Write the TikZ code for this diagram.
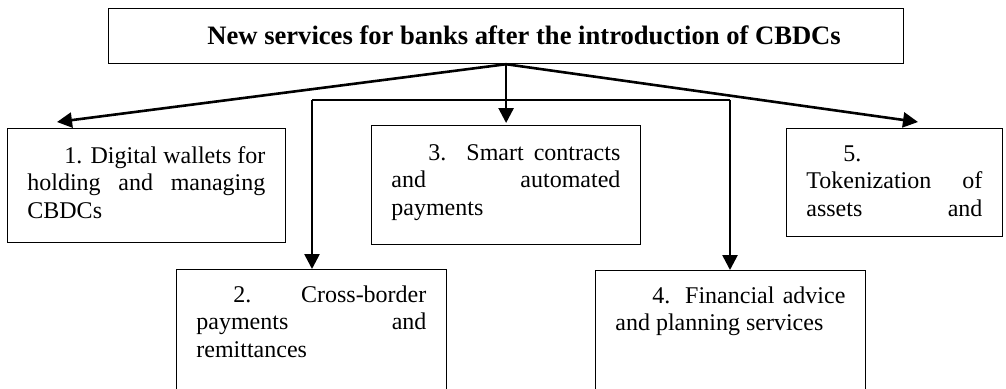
\documentclass[tikz,border=0pt]{standalone}
\usepackage{fontspec}
\setmainfont{Liberation Serif}
\usetikzlibrary{arrows.meta,calc}
\begin{document}
\begin{tikzpicture}[x=0.5pt,y=-0.5pt,
  box/.style={draw, line width=0.6pt, inner sep=0pt, anchor=north west},
  txt/.style={anchor=base west, inner sep=0pt, align=justify, font=\fontsize{12}{13.8}\selectfont},
  arr/.style={line width=1.3pt, -{Triangle[length=7.5pt,width=7.5pt]}},
  bar/.style={line width=1.3pt}]
\useasboundingbox (0,0) rectangle (1006,388);
\clip (0,0) rectangle (1006,388);
% title
\node[box, minimum width=397.5pt, minimum height=27.5pt] (t) at (108,8) {};
\node[anchor=base west, inner sep=0pt, font=\fontsize{13.3}{15}\selectfont\bfseries] (tt) at (207,44) {New services for banks after the introduction of CBDCs};
% boxes
\node[box, minimum width=139pt, minimum height=57pt] (b1) at (7,128) {};
\node[box, minimum width=135pt, minimum height=61.5pt] (b2) at (176,269) {};
\node[box, minimum width=134.5pt, minimum height=59.5pt] (b3) at (371,125) {};
\node[box, minimum width=135pt, minimum height=61pt] (b4) at (595,270) {};
\node[box, minimum width=108pt, minimum height=54pt] (b5) at (786,128) {};
% texts
\node[txt, text width=119pt] (x1) at ($(b1.north west)+(20,35)$) {\hspace*{18.5pt}1. Digital wallets for\linebreak holding and managing\linebreak CBDCs};
\node[txt, text width=115pt] (x2) at ($(b2.north west)+(20,33)$) {\hspace*{18.5pt}2. Cross-border\linebreak payments and\linebreak remittances};
\node[txt, text width=114.5pt] (x3) at ($(b3.north west)+(20,35)$) {\hspace*{18.5pt}3. Smart contracts\linebreak and automated\linebreak payments};
\node[txt, text width=115pt] (x4) at ($(b4.north west)+(20,33)$) {\hspace*{18.5pt}4. Financial advice\linebreak and planning services};
\node[txt, text width=88pt] (x5) at ($(b5.north west)+(20,33)$) {\hspace*{18.5pt}5.\linebreak Tokenization of\linebreak assets\hfill and};
% connectors
\coordinate (e1) at (57,122);
\coordinate (e5) at (918,122);
\coordinate (bl) at (312,100);
\coordinate (br) at (730,100);
\draw[arr] (t.south) -- (e1);
\draw[arr] (t.south) -- (e5);
\draw[arr, shorten >=1pt] (t.south) -- (t.south |- b3.north);
\draw[bar] (bl) -- (br);
\draw[arr] (bl) -- (bl |- b2.north);
\draw[arr] (br) -- (br |- b4.north);
\end{tikzpicture}
\end{document}
